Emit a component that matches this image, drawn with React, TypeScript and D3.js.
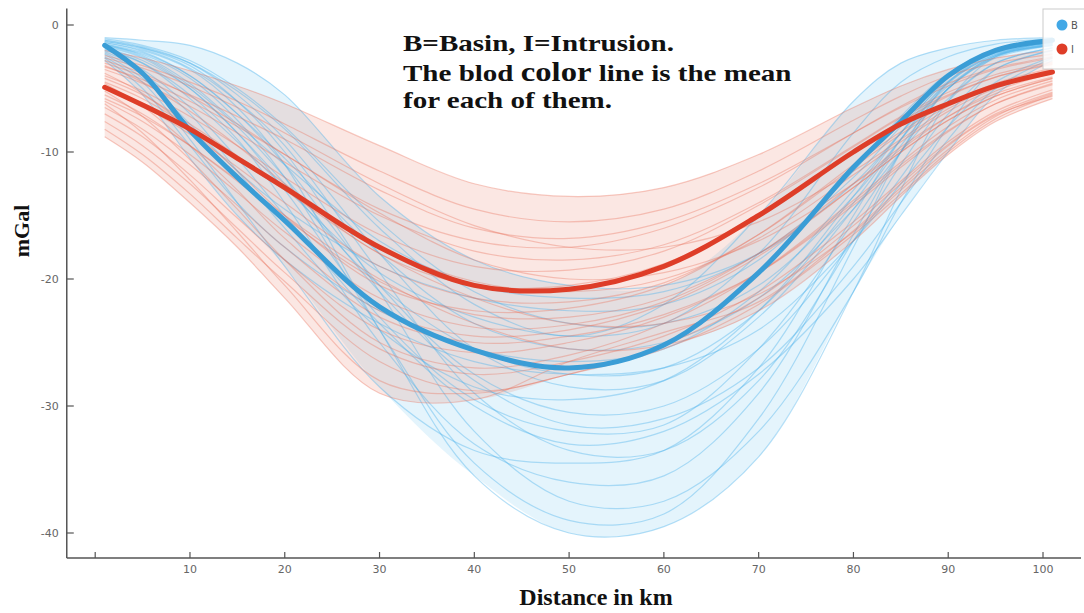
import React, { useEffect, useRef } from 'react'
import * as d3 from 'd3'

// distances (km) where each profile is sampled
const distances = [1, 5, 10, 15, 20, 30, 40, 50, 60, 70, 80, 85, 90, 95, 101]

// Basin profiles (mGal)
const basinCurves = [
  [-1.4, -2.0, -3.5, -6.5, -11, -24, -35.5, -40, -39.5, -34, -21, -13, -6, -2.5, -1.5],
  [-1.6, -2.3, -4.2, -7.5, -12, -24, -34.5, -39, -38.5, -31, -17.5, -10, -4.5, -2.1, -1.4],
  [-1.2, -1.8, -3.2, -6, -10, -21, -32, -37.5, -37.5, -32, -21, -14, -8, -3.5, -2],
  [-2.0, -3.0, -5.5, -9, -14, -25, -33, -36, -35.5, -29, -16.5, -10, -5, -2.4, -1.6],
  [-2.5, -4.5, -9, -14, -19, -28.5, -33.5, -34.5, -33.5, -27, -15, -9, -4.5, -2.3, -1.5],
  [-1.3, -1.9, -3.4, -6, -9.5, -19.5, -29, -33.5, -33.5, -28, -17, -11, -6, -3, -1.8],
  [-1.8, -2.8, -5, -8.5, -13, -23, -29.5, -32, -31.5, -25.5, -15.5, -10, -5, -2.5, -1.6],
  [-1.5, -2.2, -4, -7, -11, -20.5, -27.5, -30.5, -30, -25.5, -17, -12, -7, -3.5, -2],
  [-2.2, -3.8, -7, -11.5, -16, -24, -28.5, -29.5, -28, -22.5, -13.5, -8.5, -4.2, -2.2, -1.4],
  [-1.2, -1.7, -3, -5.5, -9, -18, -25.5, -28.5, -28, -23, -14.5, -9.5, -5, -2.6, -1.6],
  [-1.7, -2.6, -5, -8.5, -12.5, -20.5, -25.5, -27.5, -27, -22.5, -14, -9, -4.6, -2.3, -1.4],
  [-2.6, -5, -9.5, -14, -17.5, -22.5, -25.5, -26.5, -25.5, -21, -13, -8.5, -4.5, -2.4, -1.6],
  [-1.4, -2.1, -4, -7, -10.5, -18, -23.5, -25.5, -25, -21.5, -14.5, -10, -5.8, -3, -1.8],
  [-1.9, -3, -5.8, -9.2, -12.8, -19.5, -23, -24.5, -23.5, -18, -8.5, -4.5, -2.5, -1.5, -1.1],
  [-1.1, -1.6, -2.8, -5, -8, -15.5, -21, -23.5, -23.5, -20.5, -13.5, -9, -5, -2.5, -1.5],
  [-2.3, -4.2, -7.8, -11.5, -14.5, -19, -21.5, -22.5, -22, -18.5, -11.5, -7.2, -3.8, -2, -1.3],
  [-1.5, -2.4, -4.6, -7.8, -11, -17, -20.5, -21.5, -21, -18, -12, -8, -4.4, -2.2, -1.4],
  [-1.0, -1.2, -1.6, -3, -5.5, -13.5, -18.5, -20.5, -20.5, -18, -12.5, -8.5, -4.8, -2.4, -1.3],
  [-2.8, -5.5, -10.5, -15, -18.5, -23.5, -26.5, -27.5, -27, -24, -17, -12.5, -8, -4.5, -2.5],
  [-1.3, -1.8, -3, -5.2, -8.2, -16, -22, -24.5, -22, -15, -6, -3, -1.8, -1.2, -1],
  [-1.6, -2.5, -4.8, -8, -12, -21, -28, -31.5, -31, -27, -19, -14, -9, -5, -2.6],
  [-2.1, -3.5, -6.5, -10.5, -15, -23.5, -30, -33, -32, -27.5, -20, -15, -10, -5.5, -2.8],
]

// Intrusion profiles (mGal)
const intrusionCurves = [
  [-2.0, -2.6, -3.6, -4.8, -6.2, -9.5, -12.5, -13.5, -12.8, -10.2, -6.5, -4.8, -3.5, -2.6, -2.0],
  [-2.4, -3.2, -4.5, -6, -7.8, -11.5, -14.5, -15.5, -14.5, -11.5, -7.5, -5.6, -4, -3, -2.3],
  [-3.0, -4, -5.5, -7.2, -9, -13, -16, -16.8, -15.5, -12.5, -8.5, -6.5, -4.8, -3.5, -2.6],
  [-2.8, -3.8, -5.6, -7.8, -10.2, -14.5, -17, -17.5, -16, -12.8, -8.5, -6.4, -4.6, -3.4, -2.5],
  [-3.5, -4.6, -6.4, -8.5, -10.8, -15, -17.8, -18.5, -17.3, -14, -9.5, -7.2, -5.3, -3.9, -2.9],
  [-4.0, -5.2, -7.2, -9.5, -12, -16.5, -19, -19.3, -17.8, -14.2, -9.6, -7.3, -5.5, -4.1, -3.1],
  [-3.2, -4.5, -6.8, -9.5, -12.5, -18, -20.5, -20.5, -18.8, -15, -10, -7.6, -5.6, -4.1, -3],
  [-4.5, -5.8, -8, -10.5, -13, -17.5, -20.2, -21, -20, -16.8, -11.8, -9.2, -6.8, -5, -3.7],
  [-5.0, -6.4, -8.6, -11.2, -14, -19, -21.5, -21.8, -20.3, -16.5, -11.2, -8.6, -6.4, -4.8, -3.6],
  [-3.8, -5.4, -8.2, -11.5, -15, -20.5, -22.5, -22.3, -20.5, -16.5, -11, -8.4, -6.2, -4.6, -3.4],
  [-5.5, -7, -9.5, -12.3, -15.2, -20.2, -22.8, -23, -21.5, -18, -12.8, -10, -7.5, -5.6, -4.2],
  [-6.0, -7.6, -10.2, -13.2, -16.3, -21.5, -23.8, -23.6, -21.8, -18, -12.5, -9.6, -7.2, -5.4, -4.1],
  [-4.6, -6.4, -9.5, -13, -16.8, -22.5, -24.5, -24, -22, -18.2, -12.8, -10, -7.5, -5.6, -4.2],
  [-6.5, -8.2, -11, -14.2, -17.5, -23, -25, -24.5, -22.8, -19.5, -14.2, -11.2, -8.4, -6.2, -4.6],
  [-7.0, -8.8, -11.8, -15.2, -18.5, -24, -25.8, -25, -23, -19.5, -14, -11, -8.3, -6.2, -4.7],
  [-5.2, -7.2, -10.6, -14.5, -18.5, -25, -27, -26, -23.5, -19.5, -13.8, -10.8, -8, -5.9, -4.4],
  [-7.6, -9.5, -12.5, -16, -19.5, -25.5, -27.5, -26.5, -24.5, -21, -15.5, -12.3, -9.2, -6.8, -5.1],
  [-8.2, -10.2, -13.3, -16.8, -20.2, -26.5, -28.8, -27.5, -25.2, -21.5, -15.8, -12.5, -9.4, -7, -5.3],
  [-6.2, -8.5, -12.2, -16.3, -20.5, -28, -29, -27.5, -25.5, -22, -16.5, -13.3, -10, -7.4, -5.5],
  [-8.8, -10.8, -14, -17.5, -21.5, -29, -29.5, -26.5, -24.2, -21.8, -16.2, -12.8, -9.5, -7.1, -5.6],
  [-5.8, -7.2, -9.5, -12.2, -15, -20, -23.5, -25.5, -25.2, -22.5, -17, -13.5, -10.2, -7.6, -5.8],
  [-4.2, -5.5, -7.8, -10.3, -13, -18, -21.5, -23.5, -23.5, -21.2, -16.3, -13, -9.8, -7.2, -5.4],
  [-2.6, -3.4, -4.8, -6.5, -8.5, -12.5, -15.8, -17.5, -17.5, -15.5, -11.5, -9, -6.6, -4.8, -3.5],
  [-3.3, -4.3, -6, -8, -10.2, -14.8, -18.5, -20, -19.5, -17, -12.5, -9.8, -7.2, -5.2, -3.8],
]

// mean lines (bold)
const basinMean = [-1.6, -3.8, -8.3, -12, -15.4, -22.2, -25.6, -27, -25.2, -19.5, -11.2, -7.6, -4, -2, -1.2]
const intrusionMean = [-4.9, -6.3, -8.2, -10.5, -12.8, -17.5, -20.5, -20.8, -19, -15, -10, -7.8, -6.2, -4.8, -3.7]

const xTicks = [0, 10, 20, 30, 40, 50, 60, 70, 80, 90, 100]
const yTicks = [0, -10, -20, -30, -40]
const legendLabels = ['B', 'I']

const WIDTH = 1084
const HEIGHT = 613
const BLUE = '#4cb2ea'
const RED = '#e8705a'
const BLUE_MEAN = '#3a9dd6'
const RED_MEAN = '#de3d28'

const Chart = () => {
  const ref = useRef<SVGSVGElement>(null)

  useEffect(() => {
    const svg = d3.select(ref.current)
    svg.selectAll('*').remove()

    const x = d3.scaleLinear().domain([0, 100]).range([95.2, 1043])
    const y = d3.scaleLinear().domain([0, -40]).range([25, 533])
    const axisLeft = x(-3)
    const axisRight = 1081
    const axisTop = y(1.3)
    const axisBottom = 558

    const line = d3.line<number>()
      .x((d, i) => x(distances[i]))
      .y(d => y(d))
      .curve(d3.curveCatmullRom.alpha(0.5))

    const envelope = (curves: number[][]) => distances.map((_, i) => ({
      lo: d3.min(curves, c => c[i]) as number,
      hi: d3.max(curves, c => c[i]) as number,
    }))

    const area = d3.area<{ lo: number, hi: number }>()
      .x((d, i) => x(distances[i]))
      .y0(d => y(d.lo))
      .y1(d => y(d.hi))
      .curve(d3.curveCatmullRom.alpha(0.5))

    const plot = svg.append('g')

    // shaded bands
    plot.append('path').attr('d', area(envelope(basinCurves))).attr('fill', BLUE).attr('fill-opacity', 0.15)
    plot.append('path').attr('d', area(envelope(intrusionCurves))).attr('fill', RED).attr('fill-opacity', 0.17)

    // individual profiles
    plot.append('g').selectAll('path')
      .data(basinCurves)
      .join('path')
        .attr('d', d => line(d))
        .attr('fill', 'none')
        .attr('stroke', BLUE)
        .attr('stroke-opacity', 0.4)
        .attr('stroke-width', 1.2)
    plot.append('g').selectAll('path')
      .data(intrusionCurves)
      .join('path')
        .attr('d', d => line(d))
        .attr('fill', 'none')
        .attr('stroke', RED)
        .attr('stroke-opacity', 0.36)
        .attr('stroke-width', 1.2)

    // means
    plot.append('path').attr('d', line(basinMean)).attr('fill', 'none')
      .attr('stroke', BLUE_MEAN).attr('stroke-width', 5).attr('stroke-linecap', 'round')
    plot.append('path').attr('d', line(intrusionMean)).attr('fill', 'none')
      .attr('stroke', RED_MEAN).attr('stroke-width', 5).attr('stroke-linecap', 'round')

    // axes
    const axisColor = '#555'
    svg.append('line')
      .attr('x1', axisLeft).attr('x2', axisLeft).attr('y1', axisTop).attr('y2', axisBottom)
      .attr('stroke', axisColor).attr('stroke-width', 1.5)
    svg.append('line')
      .attr('x1', axisLeft).attr('x2', axisRight).attr('y1', axisBottom).attr('y2', axisBottom)
      .attr('stroke', axisColor).attr('stroke-width', 1.5)

    svg.append('g').selectAll('line')
      .data(yTicks)
      .join('line')
        .attr('x1', axisLeft).attr('x2', axisLeft + 7)
        .attr('y1', d => y(d)).attr('y2', d => y(d))
        .attr('stroke', axisColor).attr('stroke-width', 1.2)
    svg.append('g').selectAll('text')
      .data(yTicks)
      .join('text')
        .attr('x', axisLeft - 8)
        .attr('y', d => y(d))
        .attr('dy', '0.35em')
        .attr('text-anchor', 'end')
        .attr('font-family', 'DejaVu Sans, sans-serif')
        .attr('font-size', 11)
        .attr('fill', '#666')
        .text(d => d)

    svg.append('g').selectAll('line')
      .data(xTicks)
      .join('line')
        .attr('x1', d => x(d)).attr('x2', d => x(d))
        .attr('y1', axisBottom).attr('y2', axisBottom - 6)
        .attr('stroke', axisColor).attr('stroke-width', 1.2)
    svg.append('g').selectAll('text')
      .data(xTicks.filter(d => d > 0))
      .join('text')
        .attr('x', d => x(d))
        .attr('y', 573)
        .attr('text-anchor', 'middle')
        .attr('font-family', 'DejaVu Sans, sans-serif')
        .attr('font-size', 11)
        .attr('fill', '#666')
        .text(d => d)

    // axis titles
    svg.append('text')
      .attr('x', 596).attr('y', 605)
      .attr('text-anchor', 'middle')
      .attr('font-family', 'Liberation Serif, serif')
      .attr('font-weight', 'bold')
      .attr('font-size', 24)
      .attr('fill', '#111')
      .text('Distance in km')
    svg.append('text')
      .attr('transform', 'translate(29, 231) rotate(-90)')
      .attr('text-anchor', 'middle')
      .attr('font-family', 'Liberation Serif, serif')
      .attr('font-weight', 'bold')
      .attr('font-size', 22)
      .attr('fill', '#111')
      .text('mGal')

    // note (the source image is stretched horizontally)
    const note = svg.append('g')
      .attr('transform', 'translate(403, 0) scale(1.21, 1)')
      .attr('font-family', 'Liberation Serif, serif')
      .attr('font-weight', 'bold')
      .attr('font-size', 24)
      .attr('fill', '#111')
    note.append('text').attr('x', 0).attr('y', 51).text('B=Basin, I=Intrusion.')
    const second = note.append('text').attr('x', 0).attr('y', 81)
    second.append('tspan').text('The blod ')
    second.append('tspan').attr('font-size', 27).text('color')
    second.append('tspan').text(' line is the mean')
    note.append('text').attr('x', 0).attr('y', 108).text('for each of them.')

    // legend
    const legend = svg.append('g')
    legend.append('rect')
      .attr('x', 1043).attr('y', 9).attr('width', 50).attr('height', 60)
      .attr('fill', '#fff').attr('fill-opacity', 0.85)
      .attr('stroke', '#ccc')
    const items = legend.selectAll('g.item')
      .data(legendLabels)
      .join('g')
        .attr('class', 'item')
        .attr('transform', (d, i) => `translate(1062, ${25 + i * 24})`)
    items.append('circle').attr('r', 5.5).attr('fill', (d, i) => i === 0 ? '#42a8e6' : RED_MEAN)
    items.append('text')
      .attr('x', 9).attr('dy', '0.35em')
      .attr('font-family', 'DejaVu Sans, sans-serif')
      .attr('font-size', 10)
      .attr('fill', '#555')
      .text(d => d)
  })

  return (
    <svg ref={ref} width={WIDTH} height={HEIGHT}
      style={{ position: 'absolute', left: 0, top: 0, background: '#fff' }} />
  )
}

export default function App() {
  return <Chart />
}
